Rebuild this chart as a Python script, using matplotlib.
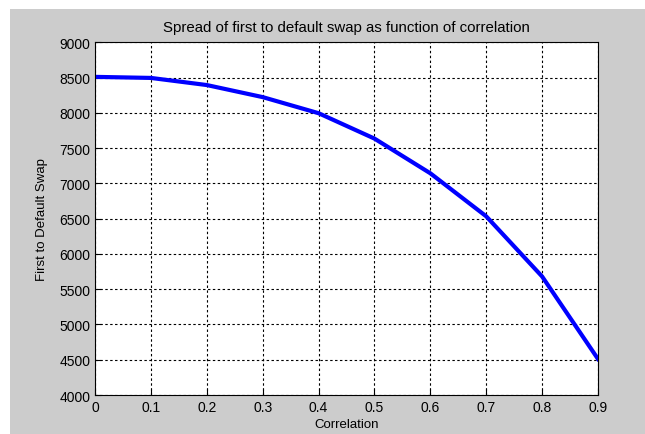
import matplotlib.pyplot as plt
from matplotlib.patches import Rectangle

# correlation vs first-to-default spread
correlacao = [0.0, 0.1, 0.2, 0.3, 0.4, 0.5, 0.6, 0.7, 0.8, 0.9]
spread = [8510, 8495, 8394, 8223, 7995, 7635, 7143, 6533, 5680, 4510]

xticks = [0, 0.1, 0.2, 0.3, 0.4, 0.5, 0.6, 0.7, 0.8, 0.9]
xticklabels = ["0", "0.1", "0.2", "0.3", "0.4", "0.5", "0.6", "0.7", "0.8", "0.9"]
yticks = [4000, 4500, 5000, 5500, 6000, 6500, 7000, 7500, 8000, 8500, 9000]

plt.rcParams['font.family'] = ['Liberation Sans', 'DejaVu Sans']
plt.rcParams['font.size'] = 9

fig = plt.figure(figsize=(6.45, 4.35), dpi=100, facecolor="white")
# matlab-style grey figure panel, white strip on top and left
fig.patches.append(Rectangle((10 / 645, 0), 1, 1 - 10 / 435, transform=fig.transFigure,
                             facecolor="#cccccc", edgecolor="none", zorder=-10))

ax = fig.add_axes([95 / 645, 1 - 396 / 435, 503 / 645, 352.7 / 435])
ax.set_facecolor("white")
ax.plot(correlacao, spread, color="#0000ff", linewidth=3)

ax.set_xlim(0, 0.9)
ax.set_ylim(4000, 9000)
ax.set_xticks(xticks)
ax.set_xticklabels(xticklabels)
ax.set_yticks(yticks)
ax.tick_params(direction="in", length=4, width=0.8, color="black", labelcolor="black",
               labelsize=10, pad=3.5)
ax.grid(True, linestyle=(0, (2.2, 2.2)), color="black", linewidth=0.8)
for s in ax.spines.values():
    s.set_linewidth(0.8)
    s.set_color("black")

ax.set_title("Spread of first to default swap as function of correlation", pad=8)
ax.set_xlabel("Correlation", fontsize=9.5, labelpad=3)
ax.set_ylabel("First to Default Swap", fontsize=9.5, labelpad=8)

plt.savefig("out.png", dpi=100, facecolor=fig.get_facecolor())
